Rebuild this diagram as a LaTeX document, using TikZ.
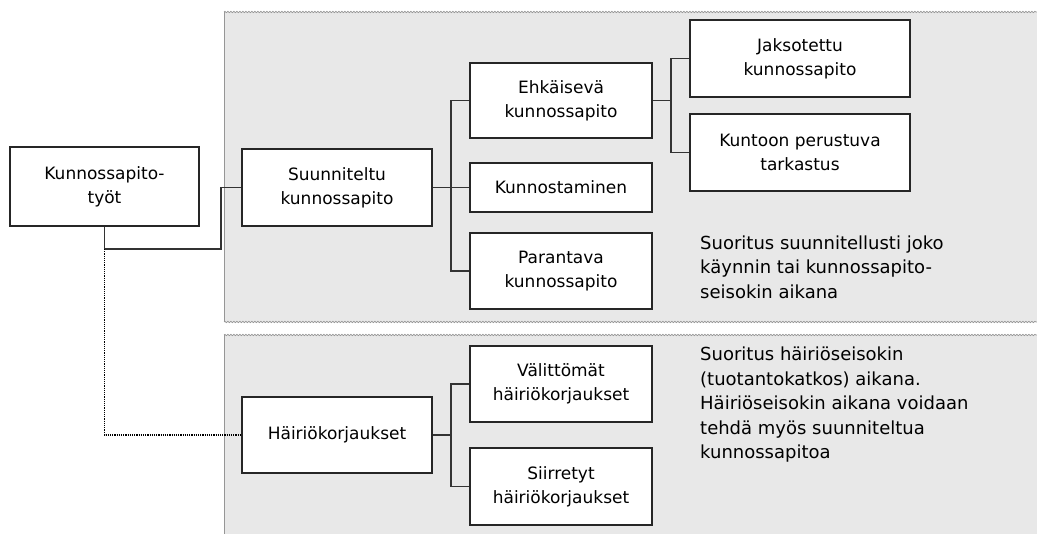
\documentclass[tikz,border=0pt]{standalone}
\usepackage{fontspec}
\setmainfont{DejaVu Sans}
\usetikzlibrary{decorations.pathmorphing}
\definecolor{panel}{RGB}{232,232,232}
\definecolor{pborder}{RGB}{150,150,150}
\tikzset{
  box/.style={draw=black!85, line width=1.7pt, fill=white, align=center, inner sep=2pt,
    font=\fontsize{17}{24}\selectfont},
  conn/.style={draw=black!80, line width=1.7pt},
  dotconn/.style={draw=black, line width=1.7pt, dash pattern=on 1.2pt off 1pt},
  note/.style={align=left, anchor=west, inner sep=0pt, font=\fontsize{18}{24.5}\selectfont},
  wavy/.style={draw=pborder, line width=0.7pt, decorate, decoration={snake, amplitude=0.7pt, segment length=3pt}},
  pedge/.style={draw=pborder, line width=0.9pt}
}
\begin{document}
\begin{tikzpicture}[x=1pt, y=-1pt]
\useasboundingbox (0,0) rectangle (1037,534);
% panels
\fill[panel] (224,12) rectangle (1037,322);
\draw[wavy] (224,12) -- (1037,12);
\draw[wavy] (224,322) -- (1037,322);
\draw[pedge] (224,12) -- (224,322);
\fill[panel] (224,335) rectangle (1037,534);
\draw[wavy] (224,335) -- (1037,335);
\draw[pedge] (224,335) -- (224,534);
% nodes
\node[box, minimum width=189pt, minimum height=79pt] (k) at (104.5,186.5) {Kunnossapito-\\työt};
\node[box, minimum width=190pt, minimum height=77pt] (s) at (337,187.5) {Suunniteltu\\kunnossapito};
\node[box, minimum width=182pt, minimum height=75pt] (e) at (561,100.5) {Ehkäisevä\\kunnossapito};
\node[box, minimum width=182pt, minimum height=49pt] (ku) at (561,187.5) {Kunnostaminen};
\node[box, minimum width=182pt, minimum height=76pt] (p) at (561,271) {Parantava\\kunnossapito};
\node[box, minimum width=220pt, minimum height=77pt] (j) at (800,58.5) {Jaksotettu\\kunnossapito};
\node[box, minimum width=220pt, minimum height=77pt] (t) at (800,152.5) {Kuntoon perustuva\\tarkastus};
\node[box, minimum width=190pt, minimum height=76pt] (h) at (337,435) {Häiriökorjaukset};
\node[box, minimum width=182pt, minimum height=76pt] (v) at (561,384) {Välittömät\\häiriökorjaukset};
\node[box, minimum width=182pt, minimum height=77pt] (si) at (561,486.5) {Siirretyt\\häiriökorjaukset};
% notes
\node[note] (n1) at (700,267) {Suoritus suunnitellusti joko\\käynnin tai kunnossapito-\\seisokin aikana};
\node[note] (n2) at (700,405) {Suoritus häiriöseisokin\\(tuotantokatkos) aikana.\\Häiriöseisokin aikana voidaan\\tehdä myös suunniteltua\\kunnossapitoa};
% junction coordinates
\coordinate (kb) at (104.5,249);
\coordinate (kr) at (221,249);
\coordinate (sj) at (451,187.5);
\coordinate (ej) at (671,100.5);
\coordinate (hj) at (451,435);
% connectors
\draw[conn] (k.south) -- (kb) -- (kr) |- (s.west);
\draw[dotconn] (kb) |- (h.west);
\draw[conn] (s.east) -- (sj);
\draw[conn] (e.west) -| (sj) |- (p.west);
\draw[conn] (sj) -- (ku.west);
\draw[conn] (e.east) -- (ej);
\draw[conn] (j.west) -| (ej) |- (t.west);
\draw[conn] (h.east) -- (hj);
\draw[conn] (v.west) -| (hj) |- (si.west);
\end{tikzpicture}
\end{document}
